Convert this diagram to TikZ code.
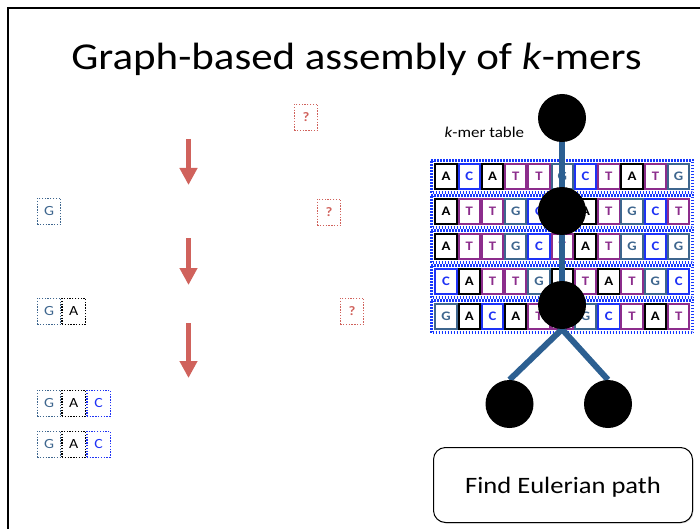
\documentclass[tikz,border=0pt]{standalone}
\usepackage{fontspec}
\setmainfont{Carlito}[FakeStretch=1.13]
\usetikzlibrary{arrows.meta,fit,shadows}

\definecolor{colA}{RGB}{0,0,0}
\definecolor{colC}{RGB}{30,50,245}
\definecolor{colG}{RGB}{62,102,142}
\definecolor{colT}{RGB}{140,45,140}
\definecolor{edgecol}{RGB}{44,95,145}
\definecolor{rowframe}{RGB}{20,55,255}
\definecolor{hintred}{RGB}{208,98,92}

\pgfdeclarelayer{tablelayer}
\pgfdeclarelayer{edgelayer}
\pgfsetlayers{tablelayer,edgelayer,main}

\tikzset{
  cell/.style={draw=col#1, text=col#1, line width=2pt,
    minimum width=21.3pt, minimum height=24.6pt, inner sep=0pt,
    anchor=north west, font=\fontsize{13}{13}\selectfont\bfseries},
  framerow/.style={draw=rowframe, line width=1.5pt,
    dash pattern=on 1.5pt off 1.5pt, inner sep=#1},
  seqbox/.style={draw=col#1, text=col#1, line width=1.3pt,
    dash pattern=on 1.3pt off 1.5pt, minimum width=23.5pt,
    minimum height=26pt, inner sep=0pt, anchor=north west,
    font=\fontsize{14}{14}\selectfont},
  qbox/.style={draw=hintred, text=hintred, line width=1.3pt,
    dash pattern=on 1.3pt off 1.5pt, minimum width=23.5pt,
    minimum height=26pt, inner sep=0pt, anchor=north west,
    font=\fontsize{13}{13}\selectfont\bfseries},
  stepdown/.style={draw=hintred, line width=5pt,
    -{Triangle[width=17pt,length=17pt]}},
  vertex/.style={circle, fill=black, minimum size=48pt, inner sep=0pt},
  graphedge/.style={draw=edgecol, line width=6pt},
}

\begin{document}
\begin{tikzpicture}[x=1pt,y=-1pt]
\useasboundingbox (0,0) rectangle (700,529);

% slide frame
\draw[line width=2pt] (8,529) -- (8,8) -- (700,8);

% title
\node[anchor=base, font=\fontsize{38}{40}\selectfont] (title) at (356.5,70)
  {Graph-based assembly of \textit{k}-mers};

% growing sequence on the left
\node[seqbox=G] (s1g) at (36.6,197.6) {G};

\node[seqbox=G] (s2g) at (36.6,297.6) {G};
\node[seqbox=A] (s2a) at (s2g.north east) {A};

\node[seqbox=G] (s3g) at (36.6,389.6) {G};
\node[seqbox=A] (s3a) at (s3g.north east) {A};
\node[seqbox=C] (s3c) at (s3a.north east) {C};

\node[seqbox=G] (s4g) at (36.6,430.6) {G};
\node[seqbox=A] (s4a) at (s4g.north east) {A};
\node[seqbox=C] (s4c) at (s4a.north east) {C};

% unknown next letters
\node[qbox] (q1) at (293.6,103.6) {?};
\node[qbox] (q2) at (316.6,198.6) {?};
\node[qbox] (q3) at (339.6,297.6) {?};

% step arrows
\coordinate (a1s) at (188.5,139);
\coordinate (a1e) at (188.5,185);
\coordinate (a2s) at (188.5,238);
\coordinate (a2e) at (188.5,285);
\coordinate (a3s) at (188.5,323);
\coordinate (a3e) at (188.5,378);
\draw[stepdown] (a1s) -- (a1e);
\draw[stepdown] (a2s) -- (a2e);
\draw[stepdown] (a3s) -- (a3e);

% k-mer table
\node[anchor=base west, font=\fontsize{15}{16}\selectfont] (tablelabel)
  at (441,138) {\textit{k}-mer table};

\begin{pgfonlayer}{tablelayer}
\foreach \r/\seq in {1/{A,C,A,T,T,G,C,T,A,T,G},
                     2/{A,T,T,G,C,T,A,T,G,C,T},
                     3/{A,T,T,G,C,T,A,T,G,C,G},
                     4/{C,A,T,T,G,A,T,A,T,G,C},
                     5/{G,A,C,A,T,T,G,C,T,A,T}} {
  \foreach \b [count=\j from 0] in \seq {
    \node[cell=\b] (r\r c\j) at ({434.3+\j*23.27},{163.3+35*(\r-1)}) {\b};
  }
  \node[framerow=1.75pt, fit=(r\r c0)(r\r c10)] (rowin\r) {};
  \node[framerow=3.25pt, dash phase=1.5pt, fit=(r\r c0)(r\r c10)] (rowout\r) {};
}
\end{pgfonlayer}

% de Bruijn style graph over the table
\node[vertex] (v1) at (562,118) {};
\node[vertex] (v2) at (562,211) {};
\node[vertex] (v3) at (562,305) {};
\node[vertex] (v4) at (509.5,404) {};
\node[vertex] (v5) at (608,404) {};

\begin{pgfonlayer}{edgelayer}
\draw[graphedge] (v1.center) -- (v2.center);
\draw[graphedge] (v2.center) -- (v3.center);
\draw[graphedge] (v3.south) -- (v4.north);
\draw[graphedge] (v3.south) -- (v5.north);
\end{pgfonlayer}

% action box
\node[draw, line width=1pt, rounded corners=12pt, fill=white,
  minimum width=259pt, minimum height=75pt, text depth=0pt,
  drop shadow={opacity=0.25, shadow xshift=1pt, shadow yshift=-1pt},
  font=\fontsize{23.5}{25}\selectfont] (euler) at (563,485) {Find Eulerian path};
\end{tikzpicture}
\end{document}
